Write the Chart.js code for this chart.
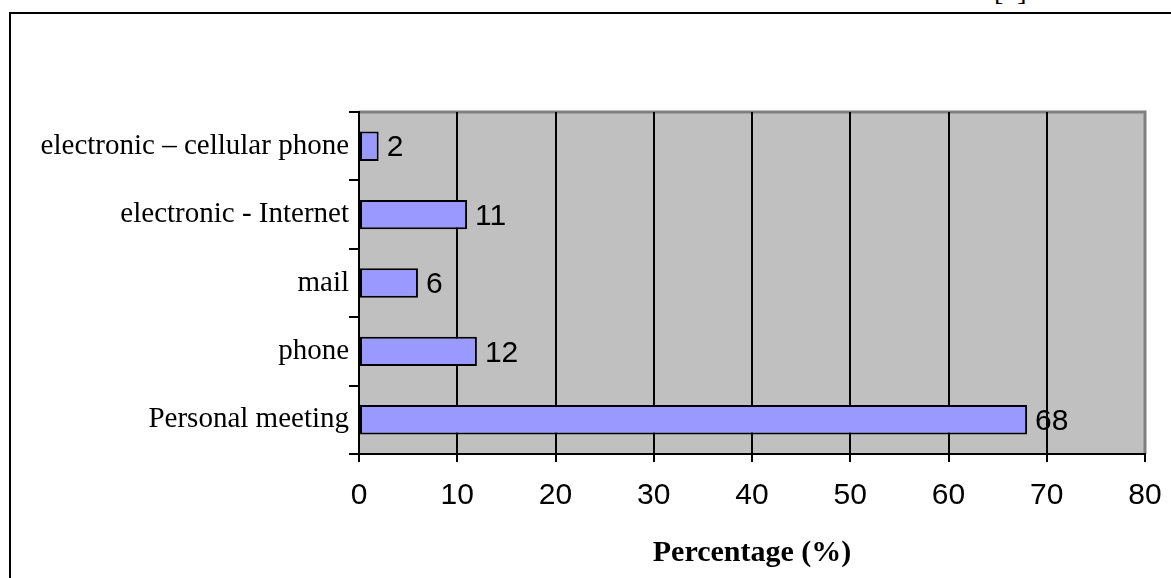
<!DOCTYPE html>
<html>
<head>
<meta charset="utf-8">
<script src="https://cdn.jsdelivr.net/npm/chart.js@4.4.1/dist/chart.umd.min.js"></script>
<style>
  html, body { margin: 0; padding: 0; background: #fff; overflow: hidden; }
  #frame {
    position: absolute; left: 9px; top: 12px;
    width: 1300px; height: 700px;
    border: 2px solid #000;
  }
  #ref {
    position: absolute; left: 994px; top: -25px;
    font: 28px "Liberation Serif", "Times New Roman", serif;
  }
  #grafico { position: absolute; left: 0; top: 0; }
</style>
</head>
<body>
<div id="frame"></div>
<div id="ref">[5]</div>
<canvas id="grafico" width="1171" height="578"></canvas>
<script>
const categorias = ["electronic – cellular phone", "electronic - Internet", "mail", "phone", "Personal meeting"];
const valores = [2, 11, 6, 12, 68];
const eixoX = { min: 0, max: 80, passo: 10 };
const tituloX = "Percentage (%)";

// fundo cinza da area do grafico + bordas superior/direita
const fundoPlot = {
  id: "fundoPlot",
  beforeDraw(chart) {
    const { ctx, chartArea: a } = chart;
    ctx.save();
    ctx.fillStyle = "#C0C0C0";
    ctx.fillRect(a.left, a.top, a.right - a.left, a.bottom - a.top);
    ctx.strokeStyle = "#808080";
    ctx.lineWidth = 3;
    ctx.beginPath();
    ctx.moveTo(a.left, a.top);
    ctx.lineTo(a.right, a.top);
    ctx.lineTo(a.right, a.bottom);
    ctx.stroke();
    ctx.restore();
  }
};

// rotulos de valor ao lado das barras
const rotulos = {
  id: "rotulos",
  afterDatasetsDraw(chart) {
    const { ctx } = chart;
    const meta = chart.getDatasetMeta(0);
    ctx.save();
    ctx.font = '30px "Liberation Sans", Arial, sans-serif';
    ctx.fillStyle = "#000";
    ctx.textAlign = "left";
    ctx.textBaseline = "middle";
    meta.data.forEach((bar, i) => {
      ctx.fillText(String(valores[i]), bar.x + 8, bar.y + 2);
    });
    ctx.restore();
  }
};

new Chart(document.getElementById("grafico"), {
  type: "bar",
  data: {
    labels: categorias,
    datasets: [{
      data: valores,
      backgroundColor: "#9999FF",
      borderColor: "#000",
      borderWidth: 2,
      borderSkipped: false,
      categoryPercentage: 1,
      barPercentage: 0.43
    }]
  },
  options: {
    indexAxis: "y",
    responsive: false,
    animation: false,
    devicePixelRatio: 1,
    layout: { padding: { top: 112, right: 26, left: 0, bottom: 0 } },
    plugins: {
      legend: { display: false },
      tooltip: { enabled: false }
    },
    scales: {
      x: {
        min: eixoX.min,
        max: eixoX.max,
        afterFit(scale) {
          scale.height = 124;
          scale.paddingRight = 0;
        },
        ticks: {
          stepSize: eixoX.passo,
          color: "#000",
          padding: 16,
          font: { family: '"Liberation Sans", Arial, sans-serif', size: 30 }
        },
        grid: {
          color: (c) => (c.tick && c.tick.value === eixoX.max ? "#808080" : "#000"),
          tickColor: "#000",
          lineWidth: 2,
          tickLength: 8
        },
        border: { color: "#000", width: 2 },
        title: {
          display: true,
          text: tituloX,
          color: "#000",
          padding: { top: 0, bottom: 7 },
          font: { family: '"Liberation Serif", "Times New Roman", serif', size: 30, weight: "bold" }
        }
      },
      y: {
        afterFit(scale) { scale.width = 359; },
        ticks: {
          color: "#000",
          padding: 0,
          font: { family: '"Liberation Serif", "Times New Roman", serif', size: 29 }
        },
        grid: {
          offset: true,
          drawOnChartArea: false,
          color: "#000",
          lineWidth: 2,
          tickLength: 10
        },
        border: { color: "#000", width: 2 }
      }
    }
  },
  plugins: [fundoPlot, rotulos]
});
</script>
</body>
</html>
